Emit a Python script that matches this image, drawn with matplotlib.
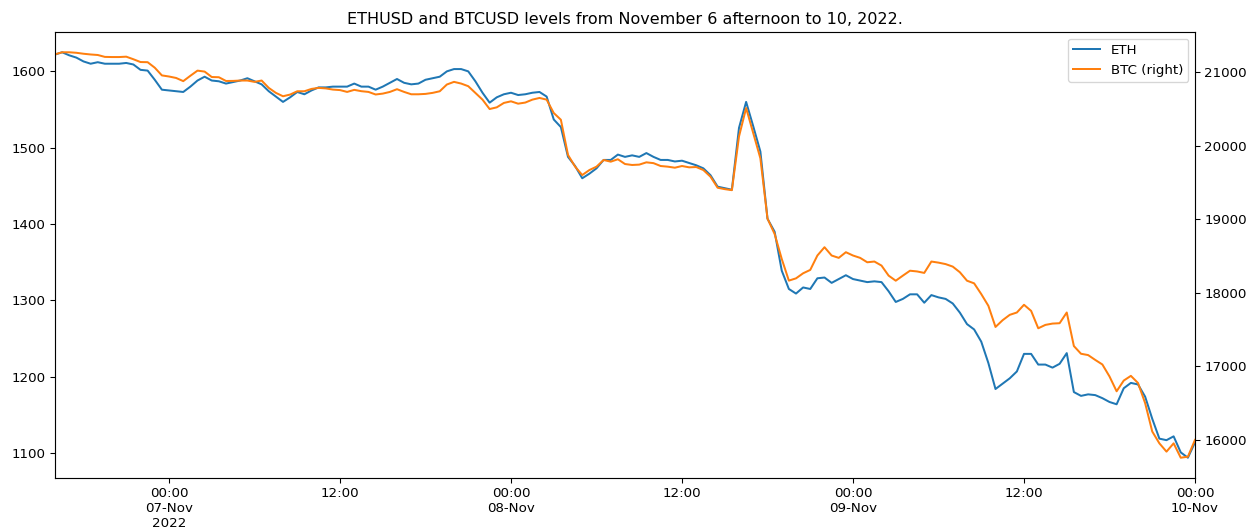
import matplotlib
matplotlib.use("Agg")
import matplotlib.pyplot as plt
import matplotlib.dates as mdates
from matplotlib.ticker import FuncFormatter
import pandas as pd

start_time = "2022-11-06 16:00"
step = "30min"

eth = [1622, 1625, 1621, 1618, 1613, 1610, 1612, 1610, 1610, 1610,
       1611, 1609, 1602, 1601, 1589, 1576, 1575, 1574, 1573, 1580,
       1588, 1593, 1588, 1587, 1584, 1586, 1588, 1591, 1587, 1583,
       1574, 1567, 1560, 1566, 1573, 1570, 1575, 1579, 1579, 1580,
       1580, 1580, 1584, 1580, 1580, 1576, 1580, 1585, 1590, 1585,
       1583, 1584, 1589, 1591, 1593, 1600, 1603, 1603, 1600, 1587,
       1572, 1559, 1566, 1570, 1572, 1569, 1570, 1572, 1573, 1567,
       1537, 1527, 1488, 1476, 1460, 1466, 1473, 1484, 1484, 1491,
       1488, 1490, 1488, 1493, 1488, 1484, 1484, 1482, 1483, 1480,
       1477, 1473, 1464, 1449, 1447, 1445, 1526, 1560, 1528, 1495,
       1407, 1390, 1339, 1315, 1309, 1317, 1315, 1329, 1330, 1323,
       1328, 1333, 1328, 1326, 1324, 1325, 1324, 1312, 1298, 1302,
       1308, 1308, 1297, 1307, 1304, 1302, 1296, 1284, 1269, 1262,
       1246, 1218, 1184, 1191, 1198, 1207, 1230, 1230, 1216, 1216,
       1212, 1217, 1231, 1180, 1175, 1177, 1176, 1172, 1167, 1164,
       1185, 1192, 1190, 1174, 1145, 1119, 1117, 1122, 1101, 1094,
       1114]

btc = [21247, 21275, 21275, 21268, 21255, 21245, 21238, 21212, 21210, 21210,
       21215, 21180, 21142, 21140, 21065, 20960, 20945, 20925, 20882, 20955,
       21025, 21012, 20938, 20935, 20884, 20885, 20890, 20890, 20872, 20890,
       20790, 20722, 20676, 20699, 20744, 20744, 20776, 20790, 20783, 20767,
       20760, 20735, 20763, 20745, 20735, 20700, 20712, 20735, 20772, 20735,
       20703, 20703, 20708, 20722, 20744, 20836, 20872, 20849, 20813, 20722,
       20630, 20502, 20525, 20585, 20607, 20575, 20590, 20630, 20653, 20630,
       20448, 20356, 19877, 19717, 19603, 19671, 19717, 19808, 19785, 19818,
       19753, 19740, 19745, 19776, 19765, 19726, 19717, 19703, 19726, 19708,
       19712, 19671, 19580, 19430, 19411, 19397, 20128, 20516, 20174, 19831,
       19010, 18800, 18460, 18165, 18196, 18265, 18311, 18507, 18620, 18507,
       18475, 18552, 18507, 18475, 18415, 18425, 18370, 18233, 18164, 18233,
       18300, 18290, 18270, 18425, 18410, 18390, 18356, 18279, 18164, 18128,
       17982, 17822, 17534, 17626, 17699, 17731, 17836, 17753, 17516, 17562,
       17580, 17585, 17731, 17274, 17169, 17151, 17085, 17023, 16860, 16658,
       16804, 16868, 16771, 16497, 16110, 15949, 15836, 15949, 15753, 15767,
       15996]

title = "ETHUSD and BTCUSD levels from November 6 afternoon to 10, 2022."
labels = ["ETH", "BTC (right)"]

times = pd.date_range(start=start_time, periods=len(eth), freq=step)
first_midnight = (times[0].normalize() + pd.Timedelta(days=1)).date()

plt.rcParams['font.family'] = ['DejaVu Sans']
plt.rcParams['font.size'] = 10

DPI = 96
fig = plt.figure(figsize=(1253 / DPI, 529 / DPI), dpi=DPI)
ax = fig.add_axes([55 / 1253, 1 - 478 / 529, (1195 - 55) / 1253, (478 - 32) / 529])
ax2 = ax.twinx()

l1, = ax.plot(times, eth, color="#1f77b4", lw=1.5, label=labels[0])
l2, = ax2.plot(times, btc, color="#ff7f0e", lw=1.5, label=labels[1])

ax.set_xlim(times[0], times[-1])
ax.margins(y=0.05)
ax2.margins(y=0.05)


def fmt(x, pos=None):
    d = mdates.num2date(x)
    if d.hour == 0:
        s = d.strftime("%H:%M\n%d-%b")
        if d.date() == first_midnight:
            s += "\n%d" % d.year
        return s
    return d.strftime("%H:%M")


ax.xaxis.set_major_locator(mdates.HourLocator(byhour=[0, 12]))
ax.xaxis.set_major_formatter(FuncFormatter(fmt))
for lab in ax.get_xticklabels():
    lab.set_ha("center")

ax.set_title(title, fontsize=12)
ax2.legend([l1, l2], labels, loc="upper right")

fig.savefig("out.png", dpi=DPI)
